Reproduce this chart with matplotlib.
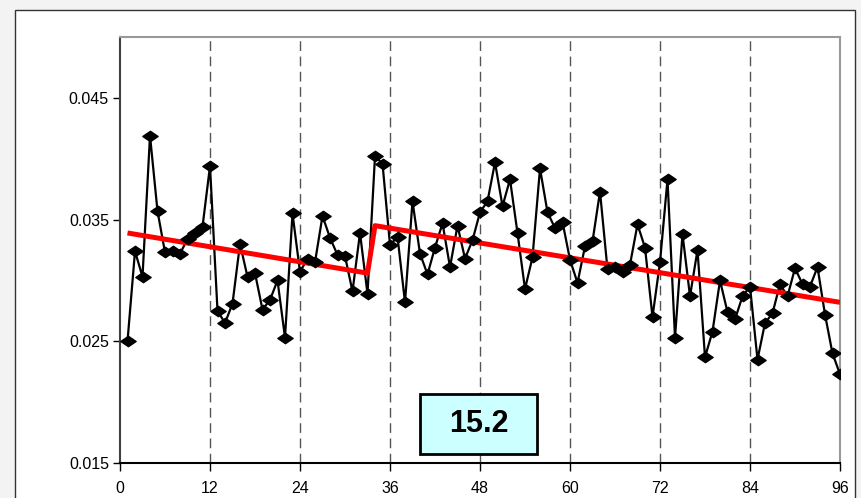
import numpy as np
import matplotlib.pyplot as plt
from matplotlib.path import Path
from matplotlib.patches import Rectangle

plt.rcParams['font.family'] = ['Liberation Sans', 'DejaVu Sans']

t = np.arange(1, 97)
y = np.array([0.0250, 0.0324, 0.0303, 0.0419, 0.0357, 0.0323, 0.0324, 0.0322,
              0.0334, 0.0339, 0.0344, 0.0394, 0.0275, 0.0265, 0.0281, 0.0330,
              0.0303, 0.0306, 0.0276, 0.0284, 0.0300, 0.0253, 0.0355, 0.0307,
              0.0318, 0.0315, 0.0353, 0.0335, 0.0321, 0.0320, 0.0291, 0.0339,
              0.0289, 0.0402, 0.0396, 0.0329, 0.0336, 0.0282, 0.0365, 0.0322,
              0.0305, 0.0327, 0.0347, 0.0311, 0.0345, 0.0318, 0.0333, 0.0356,
              0.0365, 0.0397, 0.0361, 0.0383, 0.0339, 0.0293, 0.0319, 0.0392,
              0.0356, 0.0343, 0.0348, 0.0317, 0.0298, 0.0328, 0.0332, 0.0373,
              0.0309, 0.0311, 0.0307, 0.0313, 0.0346, 0.0327, 0.0270, 0.0315,
              0.0383, 0.0253, 0.0338, 0.0287, 0.0325, 0.0237, 0.0258, 0.0300,
              0.0274, 0.0268, 0.0287, 0.0295, 0.0235, 0.0265, 0.0273, 0.0297,
              0.0287, 0.0310, 0.0297, 0.0295, 0.0311, 0.0272, 0.0240, 0.0223])

# fitted trend with a level shift after t=33
trend_t = [1, 33, 34, 96]
trend_y = [0.0339, 0.0306, 0.0345, 0.0282]

xticks = np.arange(0, 97, 12)
yticks = [0.015, 0.025, 0.035, 0.045]

# wide flat diamond marker
diamond = Path([(-1, 0), (0, 0.68), (1, 0), (0, -0.68), (-1, 0)],
               [Path.MOVETO, Path.LINETO, Path.LINETO, Path.LINETO, Path.CLOSEPOLY])

fig = plt.figure(figsize=(8.61, 4.98), dpi=100, facecolor='#f3f3f3')
fig.patches.append(Rectangle((15/861, -0.1), 840/861, 1.1 - 10/498, transform=fig.transFigure,
                             facecolor='white', edgecolor='#333333', lw=1.0, zorder=-5))

ax = fig.add_axes([120/861, 35/498, 720/861, 426/498])
ax.set_facecolor('white')

for xv in xticks[1:-1]:
    ax.axvline(xv, color='#555555', lw=1.0, dashes=(7, 4), zorder=1)

ax.plot(t, y, color='black', lw=1.6, zorder=2)
ax.plot(trend_t, trend_y, color='#ff0000', lw=3.6, zorder=3, solid_capstyle='butt')
ax.plot(t, y, ls='none', marker=diamond, ms=11, color='black', zorder=4)

ax.set_xlim(0, 96)
ax.set_ylim(0.015, 0.05)
ax.set_xticks(xticks)
ax.set_yticks(yticks)
ax.set_yticklabels(['%.3f' % v for v in yticks])
ax.tick_params(axis='x', direction='out', length=6, width=1, pad=7, labelsize=11.5)
ax.tick_params(axis='y', direction='out', length=5, width=1, pad=3, labelsize=11.5)

ax.spines['bottom'].set_color('black')
ax.spines['bottom'].set_linewidth(1.5)
ax.spines['left'].set_color('#404040')
ax.spines['left'].set_linewidth(1.5)
for s in ['top', 'right']:
    ax.spines[s].set_color('#999999')
    ax.spines[s].set_linewidth(1.5)

# label box
ax.add_patch(Rectangle((40.0, 0.0157), 15.6, 0.0050, facecolor='#ccffff',
                       edgecolor='black', lw=2, zorder=5))
ax.text(47.8, 0.0182, '15.2', ha='center', va='center',
        fontsize=22, fontweight='bold', zorder=6)

plt.savefig('out.png', dpi=100, facecolor=fig.get_facecolor())
